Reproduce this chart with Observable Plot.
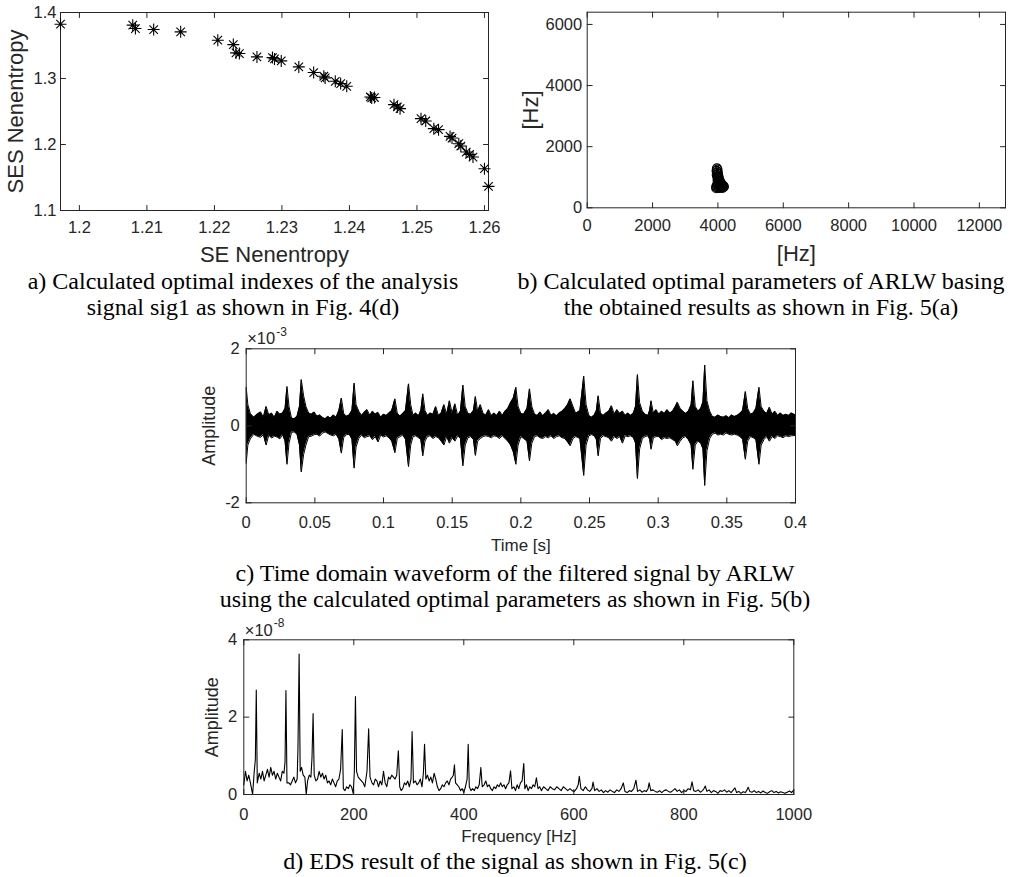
<!DOCTYPE html>
<html><head><meta charset="utf-8">
<script src="https://cdn.jsdelivr.net/npm/d3@7"></script>
<script src="https://cdn.jsdelivr.net/npm/@observablehq/plot@0.6"></script>
<style>
html,body{margin:0;padding:0;background:#fff;}
#page{position:relative;width:1013px;height:877px;overflow:hidden;background:#fff;}
.cap{position:absolute;font-family:"Liberation Serif","Times New Roman",serif;font-size:24px;line-height:26px;color:#000;text-align:center;white-space:nowrap;}
</style></head><body>
<div id="page">
<div class="cap" style="left:0px;top:268px;width:486px;">a) Calculated optimal indexes of the analysis<br>signal sig1 as shown in Fig. 4(d)</div>
<div class="cap" style="left:511px;top:268px;width:500px;">b) Calculated optimal parameters of ARLW basing<br>the obtained results as shown in Fig. 5(a)</div>
<div class="cap" style="left:215px;top:560px;width:600px;">c) Time domain waveform of the filtered signal by ARLW<br>using the calculated optimal parameters as shown in Fig. 5(b)</div>
<div class="cap" style="left:215px;top:849px;width:600px;line-height:25px;">d) EDS result of the signal as shown in Fig. 5(c)</div>
</div>
<script>
// ---------- Panel a: SES vs SE Nenentropy ----------
const xTicksA = [1.2, 1.21, 1.22, 1.23, 1.24, 1.25, 1.26];
const yTicksA = [1.1, 1.2, 1.3, 1.4];
const seA  = [1.1972,1.2079,1.2083,1.2110,1.2150,1.2205,1.2228,1.2232,1.2237,1.2263,
              1.2286,1.2289,1.2299,1.2325,1.2347,1.2362,1.2364,1.2379,1.2387,1.2396,
              1.2431,1.2433,1.2437,1.2466,1.2471,1.2475,1.2506,1.2513,1.2525,1.2532,
              1.2549,1.2552,1.2562,1.2565,1.2573,1.2578,1.2583,1.2600,1.2606];
const sesA = [1.3823,1.3808,1.3757,1.3742,1.3707,1.3580,1.3514,1.3388,1.3378,1.3327,
              1.3317,1.3297,1.3267,1.3176,1.3090,1.3034,1.3009,1.2958,1.2923,1.2882,
              1.2720,1.2705,1.2712,1.2604,1.2569,1.2543,1.2392,1.2356,1.2240,1.2225,
              1.2123,1.2098,1.2012,1.1977,1.1886,1.1850,1.1810,1.1633,1.1365];

// ---------- Panel b: ARLW parameters [Hz] ----------
const xTicksB = [0, 2000, 4000, 6000, 8000, 10000, 12000];
const yTicksB = [0, 2000, 4000, 6000];
const fcB = [3970,3985,3960,3990,3975,4000,3965,4010,3985,4020,4000,4040,3990,4030,4060,4010,4080,4045,
             3990,4100,4070,4130,4020,3960,4090,4150,4050,3950,4120,3990,4170,4080,4030,3950,4140,4180];
const bwB = [1290,1250,1210,1180,1140,1110,1080,1050,1020,990,960,930,900,880,860,840,820,800,
             780,790,760,750,745,720,720,720,700,680,690,660,680,660,650,640,650,700];

// ---------- Panel c: filtered waveform envelope (x10^-3) ----------
const xTicksC = [0, 0.05, 0.1, 0.15, 0.2, 0.25, 0.3, 0.35, 0.4];
const yTicksC = [-2, 0, 2];
const tC = [
0.0000,0.0012,0.0030,0.0055,0.0080,0.0105,0.0125,0.0145,0.0165,0.0185,
0.0205,0.0225,0.0245,0.0265,0.0283,0.0297,0.0312,0.0330,0.0350,0.0370,
0.0388,0.0401,0.0418,0.0435,0.0455,0.0475,0.0495,0.0515,0.0535,0.0555,
0.0575,0.0595,0.0615,0.0635,0.0655,0.0675,0.0693,0.0710,0.0730,0.0750,
0.0770,0.0786,0.0800,0.0820,0.0840,0.0860,0.0880,0.0900,0.0920,0.0940,
0.0960,0.0980,0.1000,0.1020,0.1040,0.1060,0.1083,0.1100,0.1120,0.1140,
0.1160,0.1182,0.1198,0.1215,0.1235,0.1255,0.1272,0.1286,0.1302,0.1320,
0.1340,0.1360,0.1380,0.1400,0.1420,0.1440,0.1460,0.1480,0.1500,0.1520,
0.1540,0.1560,0.1578,0.1595,0.1615,0.1635,0.1655,0.1669,0.1685,0.1705,
0.1725,0.1745,0.1765,0.1785,0.1805,0.1825,0.1845,0.1865,0.1885,0.1905,
0.1925,0.1945,0.1964,0.1980,0.2000,0.2020,0.2045,0.2063,0.2080,0.2100,
0.2120,0.2140,0.2160,0.2180,0.2200,0.2220,0.2240,0.2260,0.2280,0.2300,
0.2320,0.2340,0.2359,0.2380,0.2400,0.2430,0.2458,0.2475,0.2495,0.2515,
0.2535,0.2550,0.2563,0.2580,0.2600,0.2620,0.2640,0.2660,0.2680,0.2700,
0.2720,0.2740,0.2760,0.2780,0.2800,0.2820,0.2835,0.2849,0.2865,0.2885,
0.2905,0.2925,0.2938,0.2948,0.2965,0.2985,0.3005,0.3025,0.3045,0.3065,
0.3085,0.3105,0.3125,0.3140,0.3160,0.3180,0.3200,0.3220,0.3240,0.3253,
0.3270,0.3290,0.3310,0.3326,0.3339,0.3355,0.3375,0.3395,0.3415,0.3435,
0.3455,0.3475,0.3495,0.3515,0.3535,0.3555,0.3575,0.3595,0.3615,0.3635,
0.3652,0.3672,0.3692,0.3712,0.3734,0.3750,0.3770,0.3790,0.3810,0.3830,
0.3850,0.3870,0.3890,0.3910,0.3930,0.3950,0.3970,0.4000];
const upC = [
1.00,0.55,0.32,0.22,0.30,0.36,0.22,0.50,0.28,0.33,
0.22,0.38,0.30,0.33,0.45,1.02,0.50,0.20,0.18,0.24,
0.50,1.20,0.78,0.50,0.33,0.30,0.36,0.25,0.28,0.22,
0.18,0.24,0.20,0.28,0.22,0.40,0.72,0.32,0.25,0.28,
0.40,1.11,0.55,0.38,0.27,0.35,0.42,0.27,0.38,0.30,
0.35,0.22,0.30,0.27,0.33,0.40,0.70,0.33,0.25,0.32,
0.40,1.09,0.55,0.27,0.33,0.26,0.40,0.83,0.40,0.27,
0.33,0.30,0.50,0.27,0.33,0.55,0.30,0.65,0.32,0.57,
0.27,0.38,1.06,0.50,0.32,0.30,0.40,0.76,0.38,0.55,
0.32,0.28,0.42,0.26,0.33,0.27,0.38,0.27,0.38,0.45,
0.60,0.72,1.00,0.50,0.32,0.30,0.45,0.96,0.50,0.30,
0.27,0.36,0.26,0.33,0.42,0.27,0.32,0.26,0.33,0.38,
0.45,0.55,0.70,0.50,0.32,0.40,1.29,0.55,0.27,0.22,
0.28,0.40,0.78,0.33,0.27,0.33,0.38,0.52,0.30,0.42,
0.32,0.38,0.27,0.33,0.27,0.33,0.50,1.33,0.60,0.38,
0.30,0.27,0.40,0.65,0.33,0.42,0.30,0.38,0.32,0.42,
0.33,0.38,0.50,0.61,0.45,0.38,0.32,0.38,0.55,1.17,
0.50,0.38,0.45,0.62,1.58,0.65,0.38,0.24,0.22,0.28,
0.24,0.22,0.26,0.21,0.28,0.24,0.27,0.32,0.40,0.89,
0.45,0.30,0.33,0.45,1.00,0.50,0.38,0.32,0.48,0.30,
0.38,0.27,0.33,0.27,0.30,0.27,0.33,0.28];
const loC = [
-0.97,-0.50,-0.34,-0.22,-0.27,-0.30,-0.23,-0.50,-0.24,-0.32,
-0.27,-0.29,-0.34,-0.23,-0.40,-1.00,-0.45,-0.17,-0.16,-0.22,
-0.50,-1.20,-0.75,-0.50,-0.28,-0.27,-0.23,-0.22,-0.27,-0.19,
-0.16,-0.20,-0.24,-0.26,-0.22,-0.35,-0.71,-0.31,-0.23,-0.22,
-0.35,-1.10,-0.55,-0.33,-0.24,-0.31,-0.28,-0.26,-0.36,-0.28,
-0.42,-0.24,-0.29,-0.26,-0.31,-0.40,-0.70,-0.33,-0.28,-0.24,
-0.35,-1.06,-0.50,-0.28,-0.26,-0.31,-0.36,-0.78,-0.40,-0.28,
-0.26,-0.33,-0.28,-0.31,-0.40,-0.50,-0.28,-0.45,-0.31,-0.40,
-0.26,-0.33,-1.04,-0.50,-0.31,-0.28,-0.36,-0.77,-0.40,-0.33,
-0.28,-0.26,-0.28,-0.31,-0.26,-0.28,-0.33,-0.26,-0.33,-0.40,
-0.50,-0.68,-1.00,-0.50,-0.28,-0.33,-0.40,-0.91,-0.45,-0.28,
-0.26,-0.31,-0.33,-0.28,-0.31,-0.26,-0.33,-0.28,-0.26,-0.31,
-0.33,-0.42,-0.52,-0.33,-0.28,-0.33,-1.29,-0.50,-0.26,-0.23,
-0.26,-0.36,-0.78,-0.33,-0.26,-0.28,-0.31,-0.40,-0.28,-0.33,
-0.28,-0.45,-0.26,-0.28,-0.26,-0.31,-0.45,-1.37,-0.60,-0.33,
-0.28,-0.26,-0.35,-0.61,-0.31,-0.28,-0.28,-0.36,-0.31,-0.33,
-0.31,-0.36,-0.40,-0.52,-0.40,-0.31,-0.28,-0.36,-0.50,-1.13,
-0.50,-0.40,-0.45,-0.60,-1.55,-0.65,-0.33,-0.22,-0.19,-0.24,
-0.22,-0.24,-0.19,-0.22,-0.24,-0.22,-0.24,-0.28,-0.35,-0.87,
-0.40,-0.28,-0.31,-0.36,-1.00,-0.50,-0.36,-0.28,-0.40,-0.28,
-0.33,-0.26,-0.28,-0.31,-0.26,-0.28,-0.26,-0.25];

// ---------- Panel d: envelope spectrum (x10^-8) ----------
const xTicksD = [0, 200, 400, 600, 800, 1000];
const yTicksD = [0, 2, 4];
const fD = [
0,3,6,9,12,16,19,21,22.7,24.5,
28,31,34,37,40,43,46,49,52,55,
58,61,64,67,70,73,75,76.6,78.5,82,
85,88,91,94,97,98.5,100.6,102.5,105,108,
111,113.5,116,119,122,124,126,128,131,134,
137,140,143,146,149,152,155,158,161,164,
167,170,173,176,179,181,184,187,190,193,
196,199,201,203,205,208,211,214,217,220,
224,227,229.5,233,236,239,242,245,248,251,
254,257,260,263,266,269,272,275,278,281,
283.5,286,289,292,295,298,301,304,306,308.5,
312,315,318,321,324,326.5,328.6,331,334,337,
340,343,346,349,352,355,358,361,364,367,
370,373,376,379,381,383,385,388,391,394,
397,400,403,406,408,410,413,416,419,422,
425,428,431,433.5,437,440,443,446,449,452,
455,458,461,464,467,470,473,476,479,482,
485,487.5,491,494,497,500,503,506,509,511,
514,517,520,523,526,529,532,535,538,541,
545,549,553,557,561,565,569,573,577,581,
585,589,593,597,601,605,608,610,613,617,
621,625,629,633,635,638,642,646,650,654,
658,662,666,670,674,678,682,686,690,693,
697,701,705,709,713,716,720,724,728,732,
735,737,740,744,748,752,756,760,764,768,
772,776,780,784,788,792,796,800,804,808,
812,815,818,822,826,830,834,836.5,839,842,
846,850,854,858,862,866,870,874,878,882,
886,890,893,896,900,904,908,912,915,917,
920,924,928,932,936,940,944,948,952,956,
960,964,968,972,976,980,984,988,992,996,
1000];
const aD = [
0.25,0.60,0.35,0.50,0.30,0.00,0.60,0.90,2.70,0.30,
0.55,0.40,0.60,0.35,0.50,0.65,0.45,0.70,0.50,0.60,
0.40,0.55,0.45,0.35,0.60,0.55,0.85,2.69,0.30,0.30,
0.25,0.35,0.45,0.30,0.40,1.20,3.63,0.60,0.70,0.50,
0.45,0.00,0.35,0.50,0.45,0.95,2.09,0.50,0.35,0.40,
0.60,0.45,0.55,0.40,0.50,0.30,0.35,0.25,0.40,0.30,
0.20,0.35,0.40,0.65,1.68,0.15,0.10,0.20,0.15,0.25,
0.20,0.02,0.60,2.53,0.60,0.45,0.40,0.35,0.30,0.20,
0.60,1.70,0.45,0.30,0.25,0.40,0.35,0.20,0.35,0.25,
0.60,0.30,0.20,0.45,0.40,0.50,0.45,0.40,0.50,1.13,
0.20,0.10,0.15,0.30,0.25,0.35,0.20,0.40,1.63,0.30,
0.35,0.25,0.30,0.40,0.20,0.55,1.30,0.40,0.50,0.35,
0.45,0.30,0.55,0.40,0.20,0.10,0.15,0.25,0.20,0.30,
0.35,0.25,0.40,0.45,0.50,0.77,0.30,0.25,0.20,0.10,
0.15,0.05,0.20,0.40,1.30,0.20,0.10,0.15,0.10,0.20,
0.15,0.25,0.70,0.20,0.25,0.35,0.20,0.25,0.15,0.10,
0.20,0.15,0.25,0.20,0.30,0.20,0.25,0.15,0.25,0.30,
0.61,0.15,0.20,0.10,0.25,0.15,0.30,0.35,0.80,0.15,
0.25,0.10,0.20,0.15,0.25,0.20,0.43,0.15,0.20,0.10,
0.20,0.15,0.10,0.20,0.15,0.12,0.20,0.15,0.10,0.20,
0.15,0.10,0.15,0.10,0.08,0.15,0.25,0.47,0.15,0.10,
0.20,0.12,0.08,0.15,0.32,0.10,0.15,0.08,0.12,0.05,
0.10,0.06,0.12,0.08,0.05,0.12,0.08,0.15,0.30,0.08,
0.05,0.10,0.08,0.15,0.37,0.08,0.12,0.06,0.10,0.08,
0.15,0.30,0.10,0.12,0.08,0.06,0.10,0.05,0.10,0.12,
0.08,0.06,0.10,0.15,0.08,0.12,0.05,0.10,0.08,0.15,
0.12,0.33,0.10,0.08,0.12,0.06,0.10,0.15,0.22,0.08,
0.12,0.05,0.10,0.08,0.03,0.10,0.08,0.12,0.06,0.10,
0.05,0.12,0.17,0.05,0.08,0.03,0.07,0.05,0.12,0.19,
0.08,0.06,0.10,0.05,0.08,0.04,0.09,0.05,0.03,0.07,
0.10,0.05,0.08,0.04,0.07,0.05,0.03,0.06,0.09,0.05,
0.12];

// ---------- helpers ----------
const INK = "#262626";
const FONT = "'Liberation Sans', Arial, Helvetica, sans-serif";
const page = document.getElementById("page");
const tickShape = {draw(ctx, l) { ctx.moveTo(0, 0); ctx.lineTo(0, -l); }};
function inwardTicks(xt, yt, len) {
  const o = {stroke: INK, strokeWidth: 1, length: len, anchor: "start", shape: tickShape};
  return [
    Plot.vector(xt, {...o, x: d => d, frameAnchor: "bottom", rotate: 0}),
    Plot.vector(xt, {...o, x: d => d, frameAnchor: "top", rotate: 180}),
    Plot.vector(yt, {...o, y: d => d, frameAnchor: "left", rotate: 90}),
    Plot.vector(yt, {...o, y: d => d, frameAnchor: "right", rotate: -90})
  ];
}
function axes(xt, yt, fs, padX, padY) {
  return [
    Plot.axisX({ticks: xt, anchor: "bottom", tickSize: 0, tickPadding: padX, fontSize: fs, tickFormat: d => String(d), label: null, fill: INK}),
    Plot.axisY({ticks: yt, anchor: "left", tickSize: 0, tickPadding: padY, fontSize: fs, tickFormat: d => String(d), label: null, fill: INK})
  ];
}
function xLabel(s, dy, fs) {
  return Plot.text([s], {text: d => d, frameAnchor: "bottom", textAnchor: "middle", lineAnchor: "middle", dy, fontSize: fs, fill: INK});
}
function yLabel(s, dx, fs) {
  return Plot.text([s], {text: d => d, frameAnchor: "left", textAnchor: "middle", lineAnchor: "middle", rotate: -90, dx, fontSize: fs, fill: INK});
}
function exponent(e, dyBase, dyExp) {
  return [
    Plot.text(["\u00d710"], {text: d => d, frameAnchor: "top-left", textAnchor: "start", lineAnchor: "middle", dx: 1, dy: dyBase, fontSize: 16.5, fill: INK}),
    Plot.text([e], {text: d => d, frameAnchor: "top-left", textAnchor: "start", lineAnchor: "middle", dx: 30, dy: dyExp, fontSize: 12, fill: INK})
  ];
}
function place(svg, left, top) {
  svg.style.position = "absolute";
  svg.style.left = left + "px";
  svg.style.top = top + "px";
  page.appendChild(svg);
}
const baseStyle = {fontFamily: FONT, color: INK, background: "transparent", overflow: "visible"};
const asteriskSym = {draw(ctx, size) {
  const r = Math.sqrt(size / Math.PI), d = r * Math.SQRT1_2;
  ctx.moveTo(-r, 0); ctx.lineTo(r, 0);
  ctx.moveTo(0, -r); ctx.lineTo(0, r);
  ctx.moveTo(-d, -d); ctx.lineTo(d, d);
  ctx.moveTo(-d, d); ctx.lineTo(d, -d);
}};

// ---------- Panel a ----------
const dataA = seA.map((x, i) => ({x, y: sesA[i]}));
place(Plot.plot({
  width: 500, height: 270, marginLeft: 60, marginRight: 12, marginTop: 12, marginBottom: 60,
  style: baseStyle,
  x: {domain: [1.1972, 1.2606]}, y: {domain: [1.1, 1.4]},
  marks: [
    Plot.frame({stroke: INK}),
    ...inwardTicks(xTicksA, yTicksA, 5),
    ...axes(xTicksA, yTicksA, 16.5, 11, 4),
    xLabel("SE Nenentropy", 44, 22),
    yLabel("SES Nenentropy", -45, 22),
    Plot.dot(dataA, {x: "x", y: "y", symbol: asteriskSym, r: 6, stroke: "black", strokeWidth: 1.1, fill: "none"})
  ]
}), 0, 0);

// ---------- Panel b ----------
const dataB = fcB.map((x, i) => ({x, y: bwB[i]}));
place(Plot.plot({
  width: 513, height: 270, marginLeft: 86.7, marginRight: 8, marginTop: 11.7, marginBottom: 62.7,
  style: baseStyle,
  x: {domain: [0, 12800]}, y: {domain: [0, 6400]},
  marks: [
    Plot.frame({stroke: INK}),
    ...inwardTicks(xTicksB, yTicksB, 5),
    ...axes(xTicksB, yTicksB, 16.5, 11, 5),
    xLabel("[Hz]", 45.7, 22),
    yLabel("[Hz]", -56, 22),
    Plot.dot(dataB, {x: "x", y: "y", r: 4.5, stroke: "black", strokeWidth: 1.2, fill: "none"})
  ]
}), 500, 0);

// ---------- Panel c ----------
const dataC = tC.map((t, i) => ({t, up: upC[i], lo: loC[i]}));
place(Plot.plot({
  width: 640, height: 235, marginLeft: 65.7, marginRight: 25, marginTop: 23.3, marginBottom: 57.7,
  style: baseStyle,
  x: {domain: [0, 0.4]}, y: {domain: [-2, 2]},
  marks: [
    Plot.areaY(dataC, {x: "t", y1: "lo", y2: "up", fill: "black"}),
    Plot.line(dataC, {x: "t", y: "up", stroke: "black", strokeWidth: 1}),
    Plot.line(dataC, {x: "t", y: "lo", stroke: "black", strokeWidth: 1}),
    Plot.frame({stroke: INK}),
    ...inwardTicks(xTicksC, yTicksC, 5),
    ...axes(xTicksC, yTicksC, 16.5, 13, 6.4),
    xLabel("Time [s]", 42.7, 17),
    yLabel("Amplitude", -37.4, 18),
    ...exponent("-3", -10.5, -17)
  ]
}), 180, 325);

// ---------- Panel d ----------
const dataD = fD.map((f, i) => ({f, a: aD[i]}));
place(Plot.plot({
  width: 640, height: 245, marginLeft: 63.3, marginRight: 26.7, marginTop: 24.3, marginBottom: 66,
  style: baseStyle,
  x: {domain: [0, 1000]}, y: {domain: [0, 4]},
  marks: [
    Plot.line(dataD, {x: "f", y: "a", stroke: "black", strokeWidth: 1.1}),
    Plot.frame({stroke: INK}),
    ...inwardTicks(xTicksD, yTicksD, 5),
    ...axes(xTicksD, yTicksD, 16.5, 14, 6.6),
    xLabel("Frequency [Hz]", 42, 17),
    yLabel("Amplitude", -31.6, 18),
    ...exponent("-8", -9.5, -17)
  ]
}), 180, 615);

if (tC.length !== upC.length || tC.length !== loC.length) console.error("panel c length mismatch", tC.length, upC.length, loC.length);
if (fD.length !== aD.length) console.error("panel d length mismatch", fD.length, aD.length);
</script>
</body></html>
